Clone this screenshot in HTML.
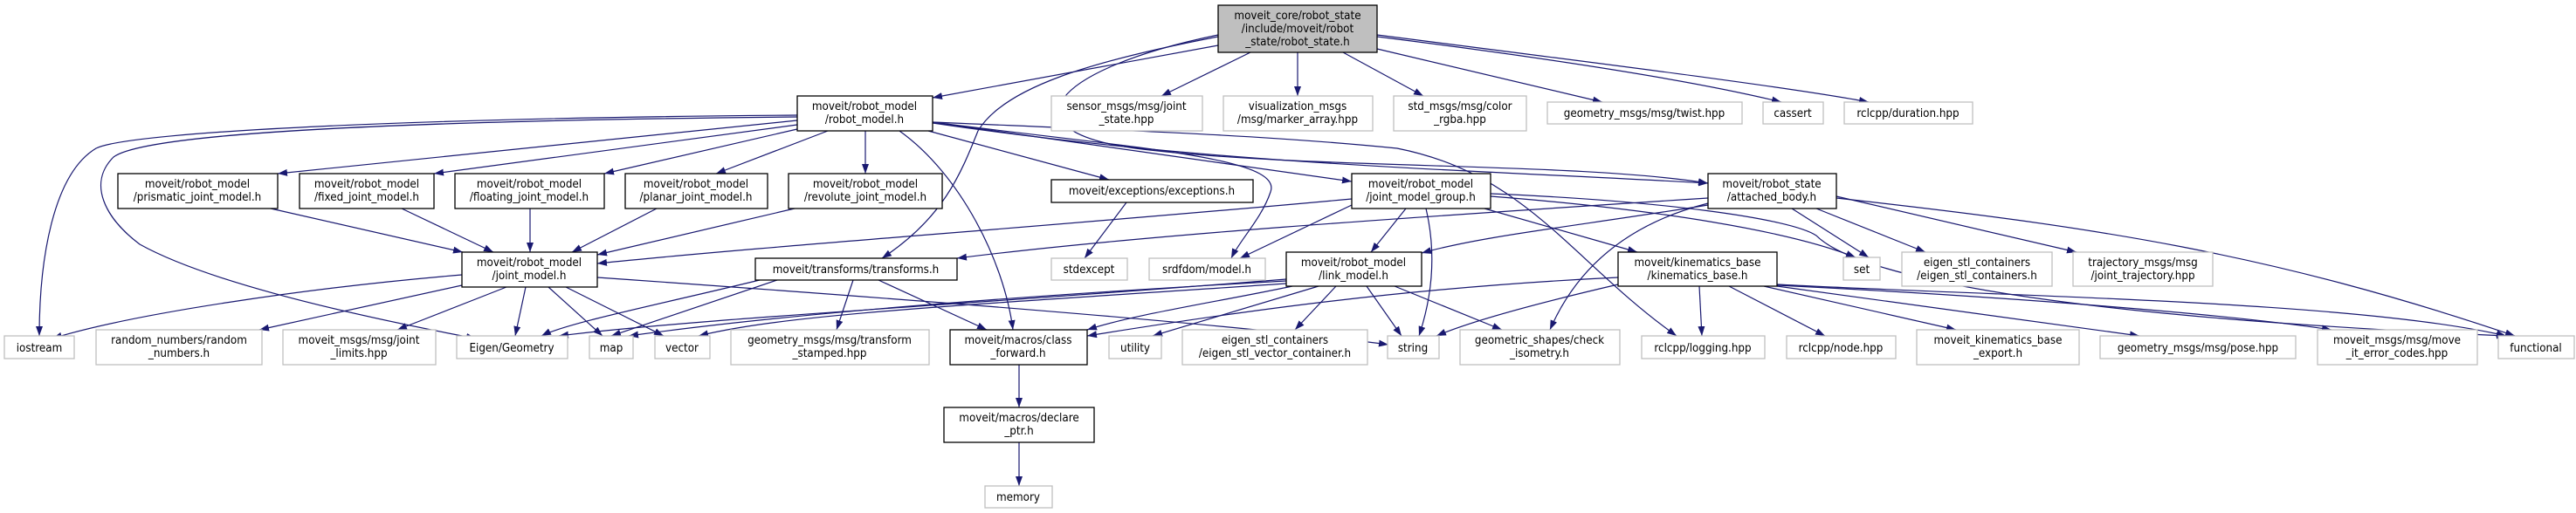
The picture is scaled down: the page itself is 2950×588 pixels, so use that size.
<!DOCTYPE html>
<html><head><meta charset="utf-8">
<style>
html,body{margin:0;padding:0;background:#fff;}
svg{display:block;}
text{font-family:"DejaVu Sans Condensed","Liberation Sans Narrow","Liberation Sans",sans-serif;font-size:13.3px;fill:#000;}
.n{fill:#fff;stroke:#bfbfbf;stroke-width:1.3;}
.b{fill:#fff;stroke:#000;stroke-width:1.3;}
.e{fill:none;stroke:#191970;stroke-width:1.2;marker-end:url(#a);}
</style></head><body>
<svg width="2950" height="588" viewBox="0 0 2950 588" xmlns="http://www.w3.org/2000/svg">
<defs><marker id="a" markerUnits="userSpaceOnUse" markerWidth="12" markerHeight="10" refX="11" refY="4" orient="auto"><path d="M0,0 L11,4 L0,8 z" fill="#191970"/></marker></defs>
<g>
<path class="e" d="M1395,52 L1068,112"/>
<path class="e" d="M1432,60 L1330,110"/>
<path class="e" d="M1486,60 L1486,110"/>
<path class="e" d="M1538,60 L1630,110"/>
<path class="e" d="M1577,56 L1835,117"/>
<path class="e" d="M1577,42 C1800,70 1950,95 2040,117"/>
<path class="e" d="M1577,40 C1850,75 2050,100 2140,117"/>
<path class="e" d="M1395,42 C1250,70 1150,100 1120,150 C1100,200 1080,250 1010,296"/>
<path class="e" d="M1395,40 C1200,80 1150,150 1300,170 C1500,195 1800,185 1956,210"/>
<path class="e" d="M913,132 C500,135 150,150 110,170 C60,200 45,300 45,385"/>
<path class="e" d="M913,134 C500,138 170,150 130,180 C100,210 120,250 160,280 C250,330 450,370 545,388"/>
<path class="e" d="M913,138 L318,199"/>
<path class="e" d="M913,143 L497,199"/>
<path class="e" d="M913,148 L692,199"/>
<path class="e" d="M948,150 L820,199"/>
<path class="e" d="M991,150 L991,199"/>
<path class="e" d="M1030,150 C1100,200 1150,300 1160,378"/>
<path class="e" d="M1063,150 L1270,206"/>
<path class="e" d="M1068,140 L1548,208"/>
<path class="e" d="M1068,141 C1400,190 1700,195 1956,210"/>
<path class="e" d="M1068,140 C1300,150 1450,155 1600,170 C1750,200 1800,300 1920,385"/>
<path class="e" d="M1068,140 C1300,170 1470,180 1455,220 C1445,250 1420,275 1410,296"/>
<path class="e" d="M910,239 L684,292"/>
<path class="e" d="M752,239 L655,289"/>
<path class="e" d="M607,239 L607,289"/>
<path class="e" d="M460,239 L565,289"/>
<path class="e" d="M310,239 L530,289"/>
<path class="e" d="M1548,228 C1200,260 900,280 684,302"/>
<path class="e" d="M1956,227 C1600,250 1300,270 1096,296"/>
<path class="e" d="M529,315 C350,330 150,360 60,388"/>
<path class="e" d="M529,327 L297,378"/>
<path class="e" d="M580,329 L455,378"/>
<path class="e" d="M602,329 L590,385"/>
<path class="e" d="M628,329 L690,385"/>
<path class="e" d="M648,329 L760,385"/>
<path class="e" d="M684,318 C1000,340 1400,370 1590,395"/>
<path class="e" d="M870,321 C750,350 650,370 620,385"/>
<path class="e" d="M890,321 L700,385"/>
<path class="e" d="M977,321 L958,378"/>
<path class="e" d="M1006,321 L1130,378"/>
<path class="e" d="M1473,320 C1100,350 800,365 640,385"/>
<path class="e" d="M1473,322 C1150,340 900,360 720,385"/>
<path class="e" d="M1473,325 C1100,350 900,360 800,385"/>
<path class="e" d="M1480,328 C1400,345 1300,360 1245,378"/>
<path class="e" d="M1510,328 L1320,385"/>
<path class="e" d="M1530,328 L1483,378"/>
<path class="e" d="M1565,328 L1605,385"/>
<path class="e" d="M1597,328 L1720,378"/>
<path class="e" d="M1610,239 L1570,289"/>
<path class="e" d="M1633,239 C1645,290 1640,340 1625,385"/>
<path class="e" d="M1700,239 L1875,289"/>
<path class="e" d="M1707,225 C1900,240 2050,265 2125,295"/>
<path class="e" d="M1707,222 C1900,230 2050,250 2080,270 C2120,310 2300,360 2870,385"/>
<path class="e" d="M1548,235 L1420,296"/>
<path class="e" d="M1956,235 C1800,260 1700,270 1628,290"/>
<path class="e" d="M1956,233 C1850,260 1800,320 1775,378"/>
<path class="e" d="M2052,239 L2140,295"/>
<path class="e" d="M2080,239 L2205,289"/>
<path class="e" d="M2103,225 L2378,289"/>
<path class="e" d="M2103,227 C2400,260 2600,290 2880,385"/>
<path class="e" d="M1853,318 C1600,330 1400,360 1245,385"/>
<path class="e" d="M1853,326 C1750,350 1680,370 1645,385"/>
<path class="e" d="M1946,328 L1949,385"/>
<path class="e" d="M1980,328 L2090,385"/>
<path class="e" d="M2020,328 L2240,378"/>
<path class="e" d="M2035,328 C2200,350 2350,370 2450,385"/>
<path class="e" d="M2035,327 C2300,340 2550,360 2670,378"/>
<path class="e" d="M2035,326 C2300,340 2700,345 2870,385"/>
<path class="e" d="M1290,232 L1242,296"/>
<path class="e" d="M1167,418 L1167,467"/>
<path class="e" d="M1167,507 L1167,557"/>
</g>
<g text-anchor="middle">
<rect x="1395" y="6" width="182" height="54" fill="#bfbfbf" stroke="#000" stroke-width="1.3"/>
<text x="1486" y="22">moveit_core/robot_state</text><text x="1486" y="37">/include/moveit/robot</text><text x="1486" y="52">_state/robot_state.h</text>

<rect class="b" x="913" y="110" width="155" height="40"/><text x="990" y="126">moveit/robot_model</text><text x="990" y="141">/robot_model.h</text>
<rect class="n" x="1204" y="110" width="173" height="40"/><text x="1290" y="126">sensor_msgs/msg/joint</text><text x="1290" y="141">_state.hpp</text>
<rect class="n" x="1401" y="110" width="171" height="40"/><text x="1486" y="126">visualization_msgs</text><text x="1486" y="141">/msg/marker_array.hpp</text>
<rect class="n" x="1596" y="110" width="152" height="40"/><text x="1672" y="126">std_msgs/msg/color</text><text x="1672" y="141">_rgba.hpp</text>
<rect class="n" x="1772" y="117" width="223" height="25"/><text x="1883" y="134">geometry_msgs/msg/twist.hpp</text>
<rect class="n" x="2019" y="117" width="69" height="25"/><text x="2053" y="134">cassert</text>
<rect class="n" x="2112" y="117" width="147" height="25"/><text x="2185" y="134">rclcpp/duration.hpp</text>

<rect class="b" x="135" y="199" width="183" height="40"/><text x="226" y="215">moveit/robot_model</text><text x="226" y="230">/prismatic_joint_model.h</text>
<rect class="b" x="343" y="199" width="154" height="40"/><text x="420" y="215">moveit/robot_model</text><text x="420" y="230">/fixed_joint_model.h</text>
<rect class="b" x="521" y="199" width="171" height="40"/><text x="606" y="215">moveit/robot_model</text><text x="606" y="230">/floating_joint_model.h</text>
<rect class="b" x="716" y="199" width="163" height="40"/><text x="797" y="215">moveit/robot_model</text><text x="797" y="230">/planar_joint_model.h</text>
<rect class="b" x="903" y="199" width="176" height="40"/><text x="991" y="215">moveit/robot_model</text><text x="991" y="230">/revolute_joint_model.h</text>
<rect class="b" x="1204" y="206" width="231" height="26"/><text x="1319" y="223">moveit/exceptions/exceptions.h</text>
<rect class="b" x="1548" y="199" width="159" height="40"/><text x="1627" y="215">moveit/robot_model</text><text x="1627" y="230">/joint_model_group.h</text>
<rect class="b" x="1956" y="199" width="147" height="40"/><text x="2029" y="215">moveit/robot_state</text><text x="2029" y="230">/attached_body.h</text>

<rect class="b" x="529" y="289" width="155" height="40"/><text x="606" y="305">moveit/robot_model</text><text x="606" y="320">/joint_model.h</text>
<rect class="b" x="865" y="296" width="231" height="25"/><text x="980" y="313">moveit/transforms/transforms.h</text>
<rect class="n" x="1204" y="296" width="87" height="25"/><text x="1247" y="313">stdexcept</text>
<rect class="n" x="1316" y="296" width="133" height="25"/><text x="1382" y="313">srdfdom/model.h</text>
<rect class="b" x="1473" y="289" width="155" height="39"/><text x="1550" y="305">moveit/robot_model</text><text x="1550" y="320">/link_model.h</text>
<rect class="b" x="1853" y="289" width="182" height="39"/><text x="1944" y="305">moveit/kinematics_base</text><text x="1944" y="320">/kinematics_base.h</text>
<rect class="n" x="2111" y="295" width="42" height="26"/><text x="2132" y="313">set</text>
<rect class="n" x="2178" y="289" width="172" height="39"/><text x="2264" y="305">eigen_stl_containers</text><text x="2264" y="320">/eigen_stl_containers.h</text>
<rect class="n" x="2374" y="289" width="160" height="39"/><text x="2454" y="305">trajectory_msgs/msg</text><text x="2454" y="320">/joint_trajectory.hpp</text>

<rect class="n" x="5" y="385" width="80" height="26"/><text x="45" y="403">iostream</text>
<rect class="n" x="110" y="378" width="190" height="40"/><text x="205" y="394">random_numbers/random</text><text x="205" y="409">_numbers.h</text>
<rect class="n" x="324" y="378" width="175" height="40"/><text x="411" y="394">moveit_msgs/msg/joint</text><text x="411" y="409">_limits.hpp</text>
<rect class="n" x="523" y="385" width="127" height="26"/><text x="586" y="403">Eigen/Geometry</text>
<rect class="n" x="675" y="385" width="50" height="26"/><text x="700" y="403">map</text>
<rect class="n" x="750" y="385" width="63" height="26"/><text x="781" y="403">vector</text>
<rect class="n" x="837" y="378" width="227" height="40"/><text x="950" y="394">geometry_msgs/msg/transform</text><text x="950" y="409">_stamped.hpp</text>
<rect class="b" x="1088" y="378" width="157" height="40"/><text x="1166" y="394">moveit/macros/class</text><text x="1166" y="409">_forward.h</text>
<rect class="n" x="1270" y="385" width="60" height="26"/><text x="1300" y="403">utility</text>
<rect class="n" x="1354" y="378" width="212" height="40"/><text x="1460" y="394">eigen_stl_containers</text><text x="1460" y="409">/eigen_stl_vector_container.h</text>
<rect class="n" x="1589" y="385" width="59" height="26"/><text x="1618" y="403">string</text>
<rect class="n" x="1672" y="378" width="183" height="40"/><text x="1763" y="394">geometric_shapes/check</text><text x="1763" y="409">_isometry.h</text>
<rect class="n" x="1880" y="385" width="141" height="26"/><text x="1950" y="403">rclcpp/logging.hpp</text>
<rect class="n" x="2046" y="385" width="125" height="26"/><text x="2108" y="403">rclcpp/node.hpp</text>
<rect class="n" x="2195" y="378" width="186" height="40"/><text x="2288" y="394">moveit_kinematics_base</text><text x="2288" y="409">_export.h</text>
<rect class="n" x="2405" y="385" width="224" height="26"/><text x="2517" y="403">geometry_msgs/msg/pose.hpp</text>
<rect class="n" x="2654" y="378" width="183" height="40"/><text x="2745" y="394">moveit_msgs/msg/move</text><text x="2745" y="409">_it_error_codes.hpp</text>
<rect class="n" x="2861" y="385" width="87" height="26"/><text x="2904" y="403">functional</text>

<rect class="b" x="1081" y="467" width="172" height="40"/><text x="1167" y="483">moveit/macros/declare</text><text x="1167" y="498">_ptr.h</text>
<rect class="n" x="1128" y="557" width="77" height="25"/><text x="1166" y="574">memory</text>
</g>
</svg>
</body></html>
